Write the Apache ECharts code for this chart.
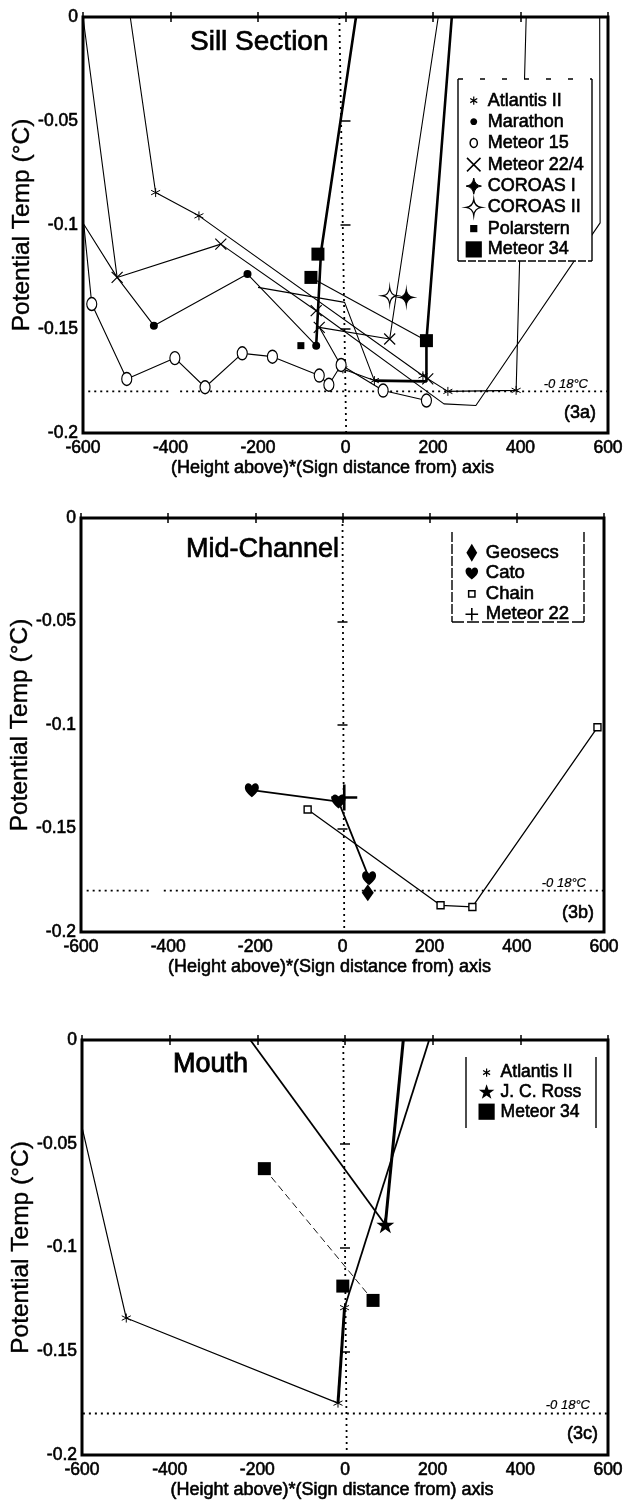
<!DOCTYPE html>
<html><head><meta charset="utf-8">
<script src="https://cdn.jsdelivr.net/npm/echarts@6/dist/echarts.min.js"></script>
<style>html,body{margin:0;padding:0;background:#fff}#c{width:627px;height:1502px}</style>
</head><body><div id="c"></div>
<script>
// ---------- tick labels / legends ----------
const xTickLabels = ['-600','-400','-200','0','200','400','600'];
const yTickLabels = ['-0.2','-0.15','-0.1','-0.05','0'];
const panelTitles = ['Sill Section','Mid-Channel','Mouth'];
const panelTags = ['(3a)','(3b)','(3c)'];
const levelLabel = '-0 18°C';
const legendSill = ['Atlantis II','Marathon','Meteor 15','Meteor 22/4','COROAS I','COROAS II','Polarstern','Meteor 34'];
const legendMid = ['Geosecs','Cato','Chain','Meteor 22'];
const legendMouth = ['Atlantis II','J. C. Ross','Meteor 34'];

// ---------- (3a) Sill Section ----------
const sillAtlantisLine1 = [[-492,0],[-434,-0.0844],[-335,-0.0956],[177,-0.1725],[234,-0.180],[390,-0.1795],[413,0]];
const sillAtlantisLine2 = [[-60,-0.1492],[-6,-0.1692],[66,-0.1748]];
const sillAtlantisPts = [[-434,-0.0844],[-335,-0.0956],[177,-0.1725],[234,-0.180],[390,-0.1795],[-6,-0.1692],[66,-0.1748]];
const sillMarathonLine1 = [[-600,-0.099],[-522,-0.1252],[-438,-0.1484],[-224,-0.1236],[-67,-0.158]];
const sillMarathonLine2 = [[-200,-0.130],[-2,-0.1372],[66,-0.1748]];
const sillMarathonPts = [[-438,-0.1484],[-224,-0.1236],[-67,-0.158]];
const sillMeteor15Line = [[-598,-0.1],[-580,-0.138],[-500,-0.174],[-390,-0.164],[-321,-0.178],[-236,-0.1617],[-167,-0.1633],[-60,-0.1724],[-38,-0.1768],[-10,-0.1673],[86,-0.1796],[185,-0.1844]];
const sillMeteor15Pts = [[-580,-0.138],[-500,-0.174],[-390,-0.164],[-321,-0.178],[-236,-0.1617],[-167,-0.1633],[-60,-0.1724],[-38,-0.1768],[-10,-0.1673],[86,-0.1796],[185,-0.1844]];
const sillMeteor224Line1 = [[-600,0],[-522,-0.1252],[-285,-0.1092],[-67,-0.1412],[225,-0.186],[298,-0.1868],[582,-0.099],[581,0]];
const sillMeteor224Line2 = [[-60,-0.1492],[101,-0.1548],[212,0]];
const sillMeteor224Pts = [[-522,-0.1252],[-285,-0.1092],[-67,-0.1412],[-60,-0.1492],[101,-0.1548],[188,-0.174]];
const sillCoroas1Pts = [[139,-0.1348]];
const sillCoroas2Pts = [[101,-0.134]];
const sillPolarsternPts = [[-102,-0.158]];
const sillMeteor34Line = [[-79,-0.1252],[185,-0.1556]];
const sillMeteor34Thick1 = [[-67,-0.158],[-56,-0.113],[24,0]];
const sillMeteor34Thick2 = [[243,0],[185,-0.1556],[185,-0.1752],[66,-0.1748]];
const sillMeteor34Pts = [[-63,-0.114],[-79,-0.1252],[185,-0.1556]];
const sillAxisLine = [[-14,0],[1.5,-0.2]];
const sillLevelLine1 = [[-588,-0.18],[-405,-0.18]];
const sillLevelLine2 = [[-378,-0.18],[600,-0.18]];

// ---------- (3b) Mid-Channel ----------
const midGeosecsPts = [[58,-0.181]];
const midCatoLine = [[-208,-0.1315],[-9,-0.137],[61,-0.174]];
const midChainLine = [[-80,-0.1408],[225,-0.1871],[298,-0.1879],[585,-0.1011]];
const midMeteor22Pts = [[4,-0.135]];
const midAxisLine = [[0,0],[4,-0.2]];
const midLevelLine1 = [[-587,-0.18],[-440,-0.18]];
const midLevelLine2 = [[-410,-0.18],[600,-0.18]];

// ---------- (3c) Mouth ----------
const mouthAtlantisLine = [[-600,-0.042],[-499,-0.134],[-16,-0.175]];
const mouthAtlantisThick = [[-16,-0.175],[-1,-0.129]];
const mouthAtlantisUpper = [[-1,-0.129],[192,0]];
const mouthAtlantisPts = [[-499,-0.134],[-16,-0.175],[-1,-0.129]];
const mouthRossLine = [[-216,0],[92,-0.089]];
const mouthRossThick = [[92,-0.089],[133,0]];
const mouthRossPts = [[92,-0.089]];
const mouthMeteor34Line = [[-184,-0.062],[64,-0.1255]];
const mouthMeteor34Pts = [[-184,-0.062],[-5,-0.1186],[64,-0.1255]];
const mouthAxisLine = [[-4,0],[4,-0.2]];
const mouthLevelLine = [[-598,-0.18],[600,-0.18]];

// ---------- styling ----------
const FONT = "'Liberation Sans', Arial, Helvetica, sans-serif";
const grids = [
  {left:83, top:17, width:525, height:416},
  {left:81, top:518, width:523, height:414},
  {left:82, top:1040, width:526, height:415}
];
const S = {
  aster: 'path://M5 0L5 10M0.67 2.5L9.33 7.5M0.67 7.5L9.33 2.5',
  x: 'path://M0 0L10 10M0 10L10 0',
  ell: 'path://M10 0C15.5 0 20 4.5 20 10C20 15.5 15.5 20 10 20C4.5 20 0 15.5 0 10C0 4.5 4.5 0 10 0Z',
  star4: 'path://M10 0Q11 9 20 10Q11 11 10 20Q9 11 0 10Q9 9 10 0Z',
  heart: 'path://M10 18C4 13.5 0 10 0 5.5C0 2.4 2.2 0 5 0C7.2 0 9 1.4 10 3.4C11 1.4 12.8 0 15 0C17.8 0 20 2.4 20 5.5C20 10 16 13.5 10 18Z',
  plus: 'path://M5 0L5 10M0 5L10 5',
  star5: 'path://M10 0L12.35 6.9L19.5 6.9L13.8 11.2L15.9 18.1L10 14L4.1 18.1L6.2 11.2L0.5 6.9L7.65 6.9Z'
};
const B = 'path://M0 0M20 20';
const L = {
  aster: B+'M10 5.5L10 14.5M6.1 7.75L13.9 12.25M6.1 12.25L13.9 7.75',
  dot: B+'M10 6.2C12.1 6.2 13.8 7.9 13.8 10C13.8 12.1 12.1 13.8 10 13.8C7.9 13.8 6.2 12.1 6.2 10C6.2 7.9 7.9 6.2 10 6.2Z',
  o: B+'M10 5C12.2 5 14 7.2 14 10C14 12.8 12.2 15 10 15C7.8 15 6 12.8 6 10C6 7.2 7.8 5 10 5Z',
  x: B+'M2.5 2.5L17.5 17.5M2.5 17.5L17.5 2.5',
  star4: B+'M10 1Q11 9 18.5 10Q11 11 10 19Q9 11 1.5 10Q9 9 10 1Z',
  sqs: B+'M6 6L14 6L14 14L6 14Z',
  sqb: B+'M1 1L19 1L19 19L1 19Z',
  diamond: B+'M10 0L16 10L10 20L4 10Z',
  heart: B+'M10 17C5.5 13.5 3 11 3 7.5C3 5.2 4.6 3.5 6.6 3.5C8.2 3.5 9.4 4.5 10 6C10.6 4.5 11.8 3.5 13.4 3.5C15.4 3.5 17 5.2 17 7.5C17 11 14.5 13.5 10 17Z',
  sqo: B+'M6.5 6.5L13.5 6.5L13.5 13.5L6.5 13.5Z',
  plus: B+'M10 3L10 17M3 10L17 10',
  star5: B+'M10 1L12.1 7.2L18.6 7.2L13.4 11.1L15.3 17.3L10 13.6L4.7 17.3L6.6 11.1L1.4 7.2L7.9 7.2Z'
};

const series = [];
function addLine(name, data, g, width, type) {
  series.push({type:'line', name, data, xAxisIndex:g*2, yAxisIndex:g*2, symbol:'none', showSymbol:false,
    lineStyle:{color:'#000', width, type:type||'solid'}, itemStyle:{color:'#000'},
    silent:true, animation:false, z:2, emphasis:{disabled:true}});
}
function addPts(name, data, g, symbol, size, fill, bw) {
  series.push({type:'scatter', name, data, xAxisIndex:g*2, yAxisIndex:g*2, symbol, symbolSize:size,
    itemStyle:{color:fill, borderColor:'#000', borderWidth:bw, opacity:1},
    silent:true, animation:false, z:3, emphasis:{disabled:true}});
}
const DOTS = [2,4];
addLine('_ref', sillAxisLine, 0, 1.8, DOTS);
addLine('_ref', sillLevelLine1, 0, 1.8, DOTS);
addLine('_ref', sillLevelLine2, 0, 1.8, DOTS);
addLine('_ref', midAxisLine, 1, 1.8, DOTS);
addLine('_ref', midLevelLine1, 1, 1.8, DOTS);
addLine('_ref', midLevelLine2, 1, 1.8, DOTS);
addLine('_ref', mouthAxisLine, 2, 1.8, DOTS);
addLine('_ref', mouthLevelLine, 2, 1.8, DOTS);

// (3a)
addLine('Atlantis II', sillAtlantisLine1, 0, 1.1);
addLine('Atlantis II', sillAtlantisLine2, 0, 1.1);
addLine('Marathon', sillMarathonLine1, 0, 1.1);
addLine('Marathon', sillMarathonLine2, 0, 1.1);
addLine('Meteor 15', sillMeteor15Line, 0, 1.1);
addLine('Meteor 22/4', sillMeteor224Line1, 0, 1.1);
addLine('Meteor 22/4', sillMeteor224Line2, 0, 1.1);
addLine('Meteor 34', sillMeteor34Line, 0, 1.1);
addLine('Meteor 34', sillMeteor34Thick1, 0, 2.6);
addLine('Meteor 34', sillMeteor34Thick2, 0, 2.6);
addPts('Atlantis II', sillAtlantisPts, 0, S.aster, 9, '#000', 1);
addPts('Marathon', sillMarathonPts, 0, 'circle', 8, '#000', 0);
addPts('Meteor 15', sillMeteor15Pts, 0, S.ell, [10,13], '#fff', 1.3);
addPts('Meteor 22/4', sillMeteor224Pts, 0, S.x, 11, '#000', 1.2);
addPts('COROAS I', sillCoroas1Pts, 0, S.star4, [14,17], '#000', 1);
addPts('COROAS II', sillCoroas2Pts, 0, S.star4, [14,17], '#fff', 1.2);
addPts('Polarstern', sillPolarsternPts, 0, 'rect', 7, '#000', 0);
addPts('Meteor 34', sillMeteor34Pts, 0, 'rect', 13, '#000', 0);

// (3b)
addLine('Cato', midCatoLine, 1, 1.8);
addLine('Chain', midChainLine, 1, 1.3);
addPts('Geosecs', midGeosecsPts, 1, 'diamond', [12,17], '#000', 0);
addPts('Cato', midCatoLine, 1, S.heart, [14,14], '#000', 0);
addPts('Chain', midChainLine, 1, 'rect', 7, '#fff', 1.4);
addPts('Meteor 22', midMeteor22Pts, 1, S.plus, 26, '#000', 2.6);

// (3c)
addLine('Atlantis II', mouthAtlantisLine, 2, 1.2);
addLine('Atlantis II', mouthAtlantisThick, 2, 3);
addLine('Atlantis II', mouthAtlantisUpper, 2, 1.8);
addLine('J. C. Ross', mouthRossLine, 2, 1.8);
addLine('J. C. Ross', mouthRossThick, 2, 3);
addLine('Meteor 34', mouthMeteor34Line, 2, 0.9, [7,4]);
addPts('Atlantis II', mouthAtlantisPts, 2, S.aster, 9, '#000', 1);
addPts('J. C. Ross', mouthRossPts, 2, S.star5, [18,17], '#000', 0);
addPts('Meteor 34', mouthMeteor34Pts, 2, 'rect', 13, '#000', 0);

// ---------- axes ----------
const xAxis = [], yAxis = [];
const tickStyle = {inside:true, length:5, lineStyle:{color:'#000', width:1.5}};
const heavy = {textBorderColor:'#000', textBorderWidth:0.6};
const lbl = Object.assign({fontSize:17.5, fontFamily:FONT, color:'#000'}, heavy);
grids.forEach((g, i) => {
  xAxis.push({gridIndex:i, type:'value', min:-600, max:600, interval:200, position:'bottom',
    axisLine:{show:false}, axisTick:tickStyle, splitLine:{show:false},
    axisLabel:Object.assign({margin:6, formatter:(v) => xTickLabels[Math.round((v+600)/200)]}, lbl),
    name:'(Height above)*(Sign distance from) axis', nameLocation:'middle', nameGap:26, nameMoveOverlap:false,
    nameTextStyle:Object.assign({padding:[0,26,0,0]}, lbl, {fontSize:18})});
  xAxis.push({gridIndex:i, type:'value', min:-600, max:600, interval:200, position:'top',
    axisLine:{show:false}, axisTick:tickStyle, splitLine:{show:false}, axisLabel:{show:false}});
  yAxis.push({gridIndex:i, type:'value', min:-0.2, max:0, interval:0.05, position:'left',
    axisLine:{show:false}, axisTick:tickStyle, splitLine:{show:false},
    axisLabel:Object.assign({margin:5, formatter:(v) => yTickLabels[Math.round((v+0.2)/0.05)]}, lbl),
    name:'Potential Temp (°C)', nameLocation:'middle', nameGap:48, nameRotate:90, nameMoveOverlap:false,
    nameTextStyle:Object.assign({fontSize:24.5, fontFamily:FONT, color:'#000'}, {textBorderColor:'#000', textBorderWidth:0.4})});
  yAxis.push({gridIndex:i, type:'value', min:-0.2, max:0, interval:0.05, position:'right',
    axisLine:{show:false}, axisTick:tickStyle, splitLine:{show:false}, axisLabel:{show:false}});
});

// ---------- legends ----------
const icons = {
  'Atlantis II':[L.aster,'#000',1.2], 'Marathon':[L.dot,'#000',0], 'Meteor 15':[L.o,'#fff',1.5],
  'Meteor 22/4':[L.x,'#000',1.5], 'COROAS I':[L.star4,'#000',1], 'COROAS II':[L.star4,'#fff',1.3],
  'Polarstern':[L.sqs,'#000',0], 'Meteor 34':[L.sqb,'#000',0],
  'Geosecs':[L.diamond,'#000',0], 'Cato':[L.heart,'#000',0], 'Chain':[L.sqo,'#fff',1.5], 'Meteor 22':[L.plus,'#000',1.6],
  'J. C. Ross':[L.star5,'#000',0]
};
function items(names){ return names.map(n => ({name:n, icon:icons[n][0], itemStyle:{color:icons[n][1], borderColor:'#000', borderWidth:icons[n][2]}})); }
function legend(names, left, top, gap, fs){
  return {data:items(names), orient:'vertical', left, top, padding:0, itemWidth:18, itemHeight:18, itemGap:gap,
    selectedMode:false, z:20, textStyle:Object.assign({fontSize:fs, fontFamily:FONT, color:'#000'}, heavy)};
}

// ---------- annotations ----------
function txt(t, x, y, fs, align, bw){
  return {type:'text', x, y, z:30, silent:true,
    style:{text:t, fontSize:fs, fontFamily:FONT, fill:'#000', align, verticalAlign:'middle', stroke:'#000', lineWidth:bw===undefined?0.6:bw}};
}
function seg(x1,y1,x2,y2,dash){
  return {type:'line', z:21, silent:true, shape:{x1,y1,x2,y2}, style:{stroke:'#000', lineWidth:1.4, lineDash:dash||null}};
}
const graphic = [
  {type:'rect', z:10, silent:true, shape:{x:458,y:79,width:134,height:182}, style:{fill:'#fff'}},
  {type:'rect', z:10, silent:true, shape:{x:452,y:532,width:132,height:90}, style:{fill:'#fff'}},
  {type:'rect', z:10, silent:true, shape:{x:466,y:1057,width:130,height:71}, style:{fill:'#fff'}},
  seg(458,79,458,261), seg(592,79,592,261), seg(458,79,592,79,[5,17]), seg(458,261,592,261,[8,2]),
  seg(452,532,452,622,[10,2]), seg(584,532,584,622,[10,2]), seg(452,622,584,622,[12,3]),
  seg(466,1057,466,1128), seg(596,1057,596,1128),
  txt(panelTitles[0], 190, 42.5, 28, 'left', 0.7),
  txt(panelTitles[1], 186, 550, 27, 'left', 0.7),
  txt(panelTitles[2], 173, 1065, 27, 'left', 0.9),
  txt(panelTags[0], 596, 413, 18, 'right'),
  txt(panelTags[1], 594, 913, 18, 'right'),
  txt(panelTags[2], 598, 1434, 18, 'right'),
  txt(levelLabel, 588, 384, 13, 'right', 0.2),
  txt(levelLabel, 586, 883, 13, 'right', 0.2),
  txt(levelLabel, 590, 1405, 13, 'right', 0.2)
];
graphic.slice(-3).forEach(g => { g.style.fontStyle = 'italic'; });

const chart = echarts.init(document.getElementById('c'), null, {renderer:'canvas', width:627, height:1502});
chart.setOption({
  animation:false,
  backgroundColor:'#fff',
  grid: grids.map(g => Object.assign({show:true, borderColor:'#000', borderWidth:3, backgroundColor:'transparent', containLabel:false, outerBoundsMode:'none'}, g)),
  xAxis, yAxis, series,
  legend:[legend(legendSill, 464, 91, 2.2, 18), legend(legendMid, 462, 543, 0.9, 18.5), legend(legendMouth, 477, 1063, 0.8, 17.5)],
  graphic
});
</script></body></html>
